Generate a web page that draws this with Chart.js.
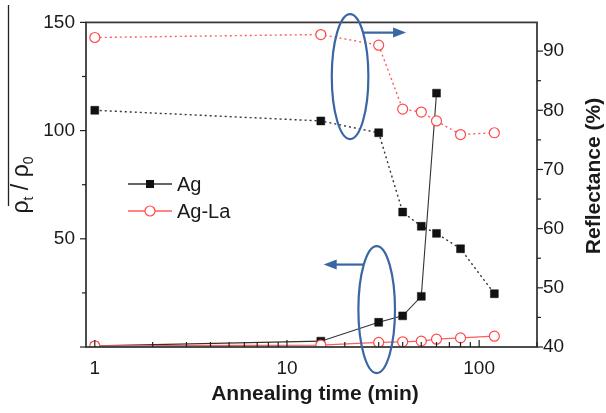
<!DOCTYPE html>
<html><head><meta charset="utf-8">
<script src="https://cdn.jsdelivr.net/npm/chart.js@4.4.0/dist/chart.umd.min.js"></script>
<style>html,body{margin:0;padding:0;background:#fff}#wrap{width:606px;height:413px;position:relative}</style>
</head><body><div id="wrap"><canvas id="c" width="606" height="413"></canvas></div>
<script>
// ---- data ----
const timesAg = [1, 15, 30, 40, 50, 60];                 // annealing time (min), Ag resistivity
const resistAg = [0.5, 2.7, 11.4, 14.4, 23.4, 117.3];    // rho_t / rho_0 (left axis)
const times = [1, 15, 30, 40, 50, 60, 80, 120];          // annealing time (min)
const resistAgLa = [0.5, 0.9, 2.1, 2.4, 2.7, 3.6, 4.2, 5.0];   // rho_t / rho_0 (left axis)
const reflectAg = [80.0, 78.2, 76.2, 62.8, 60.4, 59.2, 56.6, 49.0];   // reflectance % (right)
const reflectAgLa = [92.3, 92.8, 91.0, 80.2, 79.7, 78.2, 75.9, 76.2]; // reflectance % (right)
const xTickLabels = [1, 10, 100];
const leftTickLabels = [50, 100, 150];
const rightTickLabels = [40, 50, 60, 70, 80, 90];
const seriesNames = ['Ag', 'Ag-La'];

const BLACK = '#111';
const BLINE = '#333';
const RED = '#ff4a4a';
const RLINE = '#ff5c5c';
const BLUE = '#3a66a3';
const TXT = '#1a1a1a';
const FONT = '"Liberation Sans", Arial, Helvetica, sans-serif';

const pts = (xs, ys) => xs.map((x, i) => ({x, y: ys[i]}));

const sq = {pointStyle: 'rect', pointRadius: 5.6, pointHoverRadius: 5.6, pointBackgroundColor: BLACK, pointBorderColor: BLACK, pointBorderWidth: 0.5};
const ci = {pointStyle: 'circle', pointRadius: 5, pointHoverRadius: 5, pointBackgroundColor: '#fff', pointBorderColor: RED, pointBorderWidth: 1.2};

// Chart.js draws dataset 0 on top
const datasets = [
  Object.assign({label: seriesNames[0] + ' reflectance', data: pts(times, reflectAg), yAxisID: 'yR', borderColor: BLINE, borderWidth: 1.4, borderDash: [2, 3]}, sq),
  Object.assign({label: seriesNames[1] + ' reflectance', data: pts(times, reflectAgLa), yAxisID: 'yR', borderColor: RLINE, borderWidth: 1.4, borderDash: [2, 3]}, ci),
  Object.assign({label: seriesNames[1], data: pts(times, resistAgLa), yAxisID: 'yL', borderColor: RLINE, borderWidth: 1.2, clip: 0}, ci),
  Object.assign({label: seriesNames[0], data: pts(timesAg, resistAg), yAxisID: 'yL', borderColor: BLINE, borderWidth: 1.1, clip: 0}, sq),
];

function line(ctx, x1, y1, x2, y2) { ctx.beginPath(); ctx.moveTo(x1, y1); ctx.lineTo(x2, y2); ctx.stroke(); }

const deco = {
  id: 'deco',
  afterDatasetsDraw(chart) {
    const {ctx, chartArea: a, scales} = chart;
    const sx = scales.x, yl = scales.yL, yr = scales.yR;
    ctx.save();
    // frame
    ctx.strokeStyle = '#3a3a3a'; ctx.lineWidth = 1.8;
    ctx.strokeRect(a.left, a.top, a.right - a.left, a.bottom - a.top);
    // x ticks (inward)
    ctx.lineWidth = 1.2; ctx.strokeStyle = '#222';
    for (let d = 1; d <= 100; d *= 10) {
      for (let k = 1; k <= 9; k++) {
        const v = d * k; if (v > 200) break;
        const p = sx.getPixelForValue(v);
        const len = k === 1 ? 7 : 5;
        line(ctx, p, a.bottom, p, a.bottom - len);
      }
    }
    // left ticks (outward)
    for (let v = 0; v <= 150; v += 25) {
      const p = yl.getPixelForValue(v);
      line(ctx, a.left, p, a.left - (v % 50 === 0 ? 6 : 4), p);
    }
    // right ticks (outward)
    for (let v = 40; v <= 90; v += 5) {
      const p = yr.getPixelForValue(v);
      line(ctx, a.right, p, a.right + (v % 10 === 0 ? 6 : 4), p);
    }
    // blue annotations: ellipses + arrows
    ctx.strokeStyle = BLUE; ctx.fillStyle = BLUE; ctx.lineWidth = 2.2;
    const e1x = sx.getPixelForValue(21.3), e1y = yr.getPixelForValue(85.7);
    ctx.beginPath(); ctx.ellipse(e1x, e1y, 18.3, 62.5, 0, 0, Math.PI * 2); ctx.stroke();
    const e2x = sx.getPixelForValue(29.3), e2y = yl.getPixelForValue(17.3);
    ctx.beginPath(); ctx.ellipse(e2x, e2y, 18.3, 63.5, 0, 0, Math.PI * 2); ctx.stroke();
    // arrow right (towards right axis)
    const ay1 = e1y - 44;
    line(ctx, e1x + 13, ay1, e1x + 45, ay1);
    ctx.beginPath(); ctx.moveTo(e1x + 56, ay1); ctx.lineTo(e1x + 43, ay1 - 5); ctx.lineTo(e1x + 43, ay1 + 5); ctx.closePath(); ctx.fill();
    // arrow left (towards left axis)
    const ay2 = e2y - 45;
    line(ctx, e2x - 13, ay2, e2x - 41, ay2);
    ctx.beginPath(); ctx.moveTo(e2x - 53, ay2); ctx.lineTo(e2x - 40, ay2 - 5); ctx.lineTo(e2x - 40, ay2 + 5); ctx.closePath(); ctx.fill();

    // legend
    const lx1 = 128, lx2 = 172, rows = [184, 211];
    ctx.font = '20px ' + FONT; ctx.textBaseline = 'middle'; ctx.textAlign = 'left';
    [[BLINE, 'sq'], [RLINE, 'ci']].forEach((st, i) => {
      const y = rows[i];
      ctx.strokeStyle = st[0]; ctx.lineWidth = 1.3;
      line(ctx, lx1, y, lx2, y);
      const mx = (lx1 + lx2) / 2;
      if (st[1] === 'sq') { ctx.fillStyle = BLACK; ctx.fillRect(mx - 4, y - 4, 8, 8); }
      else { ctx.beginPath(); ctx.arc(mx, y, 5, 0, Math.PI * 2); ctx.fillStyle = '#fff'; ctx.fill(); ctx.strokeStyle = RED; ctx.lineWidth = 1.2; ctx.stroke(); }
      ctx.fillStyle = TXT;
      ctx.fillText(seriesNames[i], 177, y + 1);
    });
    ctx.restore();
  },
  afterDraw(chart) {
    const {ctx} = chart;
    ctx.save();
    ctx.fillStyle = TXT;
    // x title
    ctx.font = 'bold 21px ' + FONT; ctx.textAlign = 'center'; ctx.textBaseline = 'alphabetic';
    ctx.fillText('Annealing time (min)', 315, 400);
    // right title
    ctx.save(); ctx.translate(600, 176); ctx.rotate(-Math.PI / 2);
    ctx.fillText('Reflectance (%)', 0, 0); ctx.restore();
    // left title: rho_t / rho_0
    ctx.save(); ctx.translate(28, 185); ctx.rotate(-Math.PI / 2);
    const big = '23px ' + FONT, small = '14px ' + FONT;
    const parts = [['ρ', big, 0], ['t', small, 5], [' / ', big, 0], ['ρ', big, 0], ['0', small, 5]];
    let w = 0;
    parts.forEach(p => { ctx.font = p[1]; w += ctx.measureText(p[0]).width; });
    let cx = -w / 2; ctx.textAlign = 'left';
    parts.forEach(p => { ctx.font = p[1]; ctx.fillText(p[0], cx, p[2]); cx += ctx.measureText(p[0]).width; });
    ctx.restore();
    // stray vertical bar at far left
    ctx.strokeStyle = '#222'; ctx.lineWidth = 1.3;
    line(ctx, 8.5, 5, 8.5, 206);
    ctx.restore();
  }
};

const tickFont = {family: FONT, size: 19};
new Chart(document.getElementById('c'), {
  type: 'line',
  data: {datasets},
  options: {
    responsive: false, animation: false, devicePixelRatio: 1,
    layout: {padding: {top: 13, left: 0, right: 0, bottom: 0}},
    plugins: {legend: {display: false}, tooltip: {enabled: false}},
    scales: {
      x: {type: 'logarithmic', position: 'bottom', min: 0.9, max: 200,
          grid: {display: false, drawTicks: false}, border: {display: false},
          ticks: {autoSkip: false, maxRotation: 0, padding: 10, color: TXT, font: tickFont,
                  callback: v => xTickLabels.includes(v) ? String(v) : ''},
          afterFit: s => { s.height = 66; }},
      yL: {type: 'linear', position: 'left', min: 0, max: 150,
           grid: {display: false, drawTicks: false}, border: {display: false},
           ticks: {stepSize: 25, padding: 11, color: TXT, font: tickFont,
                   callback: v => leftTickLabels.includes(v) ? String(v) : ''},
           afterFit: s => { s.width = 86; }},
      yR: {type: 'linear', position: 'right', min: 40, max: 94.85,
           grid: {display: false, drawTicks: false}, border: {display: false},
           ticks: {stepSize: 5, padding: 6, color: TXT, font: tickFont,
                   callback: v => rightTickLabels.includes(v) ? String(v) : ''},
           afterFit: s => { s.width = 69; }}
    }
  },
  plugins: [deco]
});
</script></body></html>
